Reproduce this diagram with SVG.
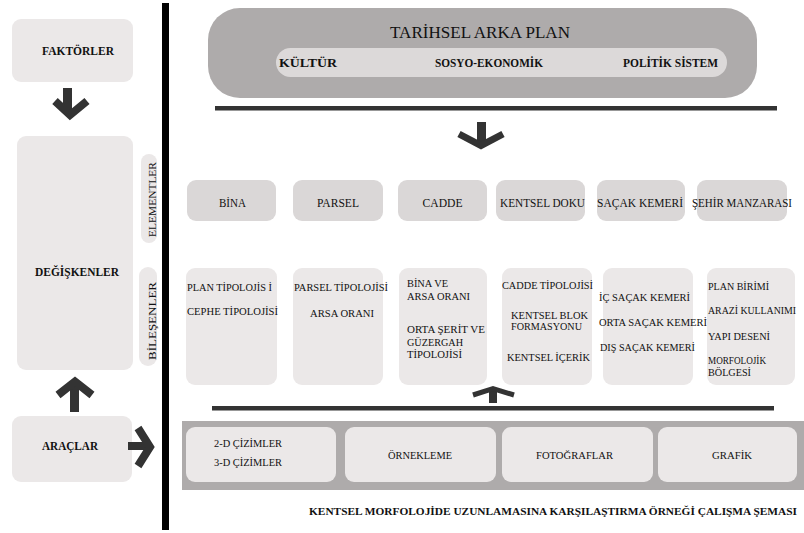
<svg xmlns="http://www.w3.org/2000/svg" width="804" height="533" viewBox="0 0 804 533">
<style>
text{fill:#111;font-family:"Liberation Serif","DejaVu Serif",serif;}
.b{font-weight:bold;}
.lt{fill:#ebe8e8;}
.el{fill:#dad7d7;}
.t12{font-size:12px;}
.t11{font-size:11px;}
.t10{font-size:10.5px;}
.arw{fill:none;stroke:#333;stroke-linejoin:miter;stroke-linecap:butt;}
</style>
<rect width="804" height="533" fill="#fff"/>
<rect id="divider" x="162" y="3" width="7" height="527" fill="#000"/>

<g id="faktorler"><rect class="lt" x="12" y="19" width="121" height="63" rx="9"/>
<text class="b t12" x="78" y="55" text-anchor="middle" textLength="72" lengthAdjust="spacingAndGlyphs">FAKTÖRLER</text></g>

<g id="degiskenler"><rect class="lt" x="17" y="136" width="116" height="234" rx="9"/>
<text class="b t12" x="77" y="276" text-anchor="middle" textLength="84" lengthAdjust="spacingAndGlyphs">DEĞİŞKENLER</text></g>

<g id="elementler"><rect class="lt" x="141" y="154" width="16" height="89" rx="8"/>
<text class="t11" transform="translate(155.5,199.5) rotate(-90)" text-anchor="middle" textLength="75" lengthAdjust="spacingAndGlyphs">ELEMENTLER</text></g>

<g id="bilesenler"><rect class="lt" x="139" y="267" width="18" height="99" rx="9"/>
<text class="t11" transform="translate(155.5,321) rotate(-90)" text-anchor="middle" textLength="78" lengthAdjust="spacingAndGlyphs">BİLEŞENLER</text></g>

<g id="araclar"><rect class="lt" x="12" y="416" width="120" height="66" rx="9"/>
<text class="b t12" x="70" y="450" text-anchor="middle" textLength="56" lengthAdjust="spacingAndGlyphs">ARAÇLAR</text></g>

<g id="tarihsel">
<rect x="208" y="8" width="549" height="90" rx="32" fill="#aeabab"/>
<text x="480" y="38" font-size="17" text-anchor="middle" textLength="180" lengthAdjust="spacingAndGlyphs">TARİHSEL ARKA PLAN</text>
<rect x="276" y="48" width="451" height="29" rx="14.5" fill="#dcd9d9"/>
<text class="b t12" x="279" y="67" textLength="58" lengthAdjust="spacingAndGlyphs">KÜLTÜR</text>
<text class="b t12" x="435" y="67" textLength="108" lengthAdjust="spacingAndGlyphs">SOSYO-EKONOMİK</text>
<text class="b t12" x="623" y="67" textLength="95" lengthAdjust="spacingAndGlyphs">POLİTİK SİSTEM</text>
</g>

<g id="el-bina"><rect class="el" x="187" y="180" width="89" height="41" rx="9"/>
<text class="t12" x="232.5" y="207" text-anchor="middle" textLength="27" lengthAdjust="spacingAndGlyphs">BİNA</text></g>
<g id="el-parsel"><rect class="el" x="293" y="180" width="90" height="41" rx="9"/>
<text class="t12" x="338" y="207" text-anchor="middle" textLength="42" lengthAdjust="spacingAndGlyphs">PARSEL</text></g>
<g id="el-cadde"><rect class="el" x="398" y="180" width="89" height="41" rx="9"/>
<text class="t12" x="442.5" y="207" text-anchor="middle" textLength="40" lengthAdjust="spacingAndGlyphs">CADDE</text></g>
<g id="el-doku"><rect class="el" x="496" y="180" width="89" height="41" rx="9"/>
<text class="t12" x="500" y="207" textLength="85" lengthAdjust="spacingAndGlyphs">KENTSEL DOKU</text></g>
<g id="el-sacak"><rect class="el" x="597" y="180" width="88" height="41" rx="9"/>
<text class="t12" x="597" y="207" textLength="86" lengthAdjust="spacingAndGlyphs">SAÇAK KEMERİ</text></g>
<g id="el-manzara"><rect class="el" x="697" y="180" width="90" height="41" rx="9"/>
<text class="t12" x="692" y="207" textLength="100" lengthAdjust="spacingAndGlyphs">ŞEHİR MANZARASI</text></g>

<g id="c-bina"><rect class="lt" x="186" y="268" width="91" height="117" rx="9"/>
<text class="t10" x="187" y="291" textLength="85" lengthAdjust="spacingAndGlyphs">PLAN TİPOLOJİS İ</text>
<text class="t10" x="187" y="315" textLength="91" lengthAdjust="spacingAndGlyphs">CEPHE TİPOLOJİSİ</text></g>
<g id="c-parsel"><rect class="lt" x="293" y="268" width="90" height="117" rx="9"/>
<text class="t10" x="294" y="291" textLength="94" lengthAdjust="spacingAndGlyphs">PARSEL TİPOLOJİSİ</text>
<text class="t10" x="310" y="317" textLength="64" lengthAdjust="spacingAndGlyphs">ARSA ORANI</text></g>
<g id="c-cadde"><rect class="lt" x="399" y="268" width="88" height="117" rx="9"/>
<text class="t10" x="407" y="287" textLength="41" lengthAdjust="spacingAndGlyphs">BİNA VE</text>
<text class="t10" x="407" y="300" textLength="63" lengthAdjust="spacingAndGlyphs">ARSA ORANI</text>
<text class="t10" x="407" y="333" textLength="78" lengthAdjust="spacingAndGlyphs">ORTA ŞERİT VE</text>
<text class="t10" x="407" y="346" textLength="56" lengthAdjust="spacingAndGlyphs">GÜZERGAH</text>
<text class="t10" x="407" y="358" textLength="55" lengthAdjust="spacingAndGlyphs">TİPOLOJİSİ</text></g>
<g id="c-doku"><rect class="lt" x="502" y="268" width="90" height="117" rx="9"/>
<text class="t10" x="502" y="289" textLength="91" lengthAdjust="spacingAndGlyphs">CADDE TİPOLOJİSİ</text>
<text class="t10" x="511" y="319" textLength="77" lengthAdjust="spacingAndGlyphs">KENTSEL BLOK</text>
<text class="t10" x="511" y="330" textLength="71" lengthAdjust="spacingAndGlyphs">FORMASYONU</text>
<text class="t10" x="507" y="361" textLength="83" lengthAdjust="spacingAndGlyphs">KENTSEL İÇERİK</text></g>
<g id="c-sacak"><rect class="lt" x="603" y="268" width="90" height="117" rx="9"/>
<text class="t10" x="599" y="301" textLength="91" lengthAdjust="spacingAndGlyphs">İÇ SAÇAK KEMERİ</text>
<text class="t10" x="599" y="326" textLength="108" lengthAdjust="spacingAndGlyphs">ORTA SAÇAK KEMERİ</text>
<text class="t10" x="600" y="351" textLength="95" lengthAdjust="spacingAndGlyphs">DIŞ SAÇAK KEMERİ</text></g>
<g id="c-manzara"><rect class="lt" x="707" y="268" width="88" height="117" rx="9"/>
<text class="t10" x="708" y="290" textLength="61" lengthAdjust="spacingAndGlyphs">PLAN BİRİMİ</text>
<text class="t10" x="708" y="314" textLength="88" lengthAdjust="spacingAndGlyphs">ARAZİ KULLANIMI</text>
<text class="t10" x="708" y="340" textLength="62" lengthAdjust="spacingAndGlyphs">YAPI DESENİ</text>
<text class="t10" x="708" y="364" textLength="58" lengthAdjust="spacingAndGlyphs">MORFOLOJİK</text>
<text class="t10" x="708" y="376" textLength="43" lengthAdjust="spacingAndGlyphs">BÖLGESİ</text></g>

<g id="tools">
<rect x="182" y="421" width="622" height="69" fill="#aeabab"/>
<rect class="lt" x="186" y="427" width="150" height="55" rx="9"/>
<text class="t10" x="214" y="447" textLength="68" lengthAdjust="spacingAndGlyphs">2-D ÇİZİMLER</text>
<text class="t10" x="214" y="466" textLength="68" lengthAdjust="spacingAndGlyphs">3-D ÇİZİMLER</text>
<rect class="lt" x="345" y="427" width="151" height="55" rx="9"/>
<text class="t10" x="420" y="459" text-anchor="middle" textLength="64" lengthAdjust="spacingAndGlyphs">ÖRNEKLEME</text>
<rect class="lt" x="502" y="427" width="151" height="55" rx="9"/>
<text class="t10" x="574.5" y="459" text-anchor="middle" textLength="77" lengthAdjust="spacingAndGlyphs">FOTOĞRAFLAR</text>
<rect class="lt" x="658" y="427" width="139" height="55" rx="9"/>
<text class="t10" x="732" y="459" text-anchor="middle" textLength="40" lengthAdjust="spacingAndGlyphs">GRAFİK</text>
</g>

<g id="connectors">
<rect x="215" y="106" width="562" height="4.5" fill="#333"/>
<rect x="212" y="406" width="562" height="4.5" fill="#333"/>
<path class="arw" stroke-width="9" d="M67.5,88 V114"/>
<path class="arw" stroke-width="8" d="M55,101 L70,115 L87,101"/>
<path class="arw" stroke-width="9" d="M481.5,122 V143"/>
<path class="arw" stroke-width="7" d="M459,134 L481,145.5 L503,134"/>
<path class="arw" stroke-width="9" d="M74.5,412 V384"/>
<path class="arw" stroke-width="8" d="M58,395 L75,381.5 L92,395"/>
<path class="arw" stroke-width="8" d="M128,446 H148"/>
<path class="arw" stroke-width="8" d="M138,428 L150,447 L138,466"/>
<path class="arw" stroke-width="8" d="M493,403 V390"/>
<path class="arw" stroke-width="5" d="M473,395 L493,388.5 L514,395"/>
</g>

<text id="caption" class="b" font-size="10.5" x="309" y="515" textLength="488" lengthAdjust="spacingAndGlyphs">KENTSEL MORFOLOJİDE UZUNLAMASINA KARŞILAŞTIRMA ÖRNEĞİ ÇALIŞMA ŞEMASI</text>
</svg>
